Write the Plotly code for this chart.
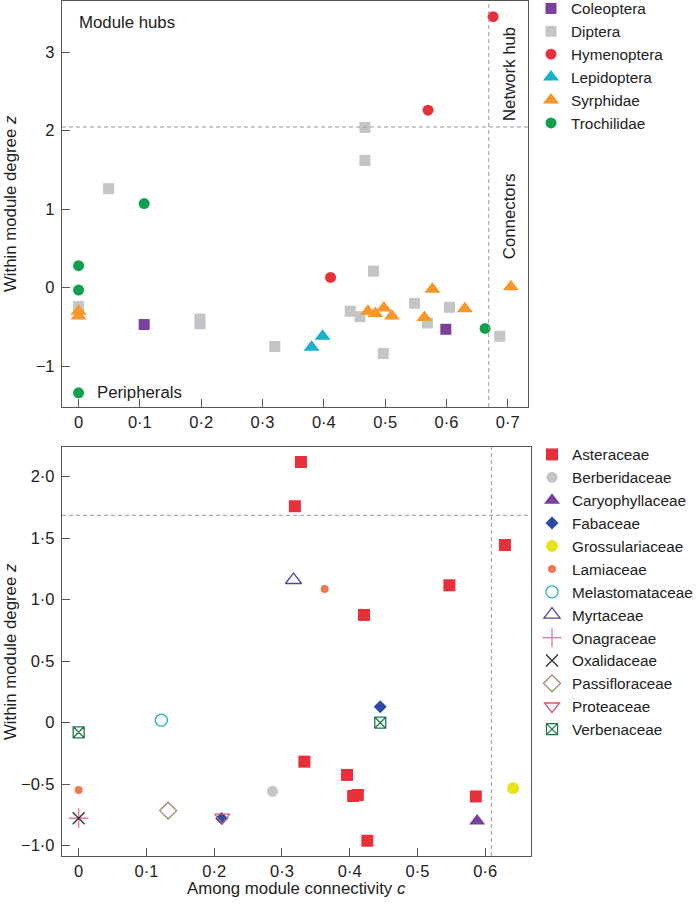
import plotly.graph_objects as go

# ---------------- data: top panel (pollinators) ----------------
coleoptera_x = [0.107, 0.599]
coleoptera_y = [-0.47, -0.53]
diptera_x = [0.0, 0.049, 0.198, 0.198, 0.32, 0.443, 0.459, 0.467, 0.467, 0.481, 0.497, 0.548, 0.569, 0.605, 0.687]
diptera_y = [-0.24, 1.26, -0.40, -0.46, -0.75, -0.30, -0.37, 2.04, 1.62, 0.21, -0.84, -0.20, -0.45, -0.25, -0.62]
hymenoptera_x = [0.676, 0.570, 0.411]
hymenoptera_y = [3.45, 2.26, 0.13]
lepidoptera_x = [0.380, 0.398]
lepidoptera_y = [-0.76, -0.62]
syrphidae_x = [0.0, 0.0, 0.472, 0.484, 0.498, 0.511, 0.564, 0.577, 0.630, 0.705]
syrphidae_y = [-0.30, -0.36, -0.30, -0.33, -0.26, -0.36, -0.38, -0.02, -0.27, 0.01]
trochilidae_x = [0.0, 0.0, 0.107, 0.0, 0.663]
trochilidae_y = [0.28, -0.03, 1.07, -1.34, -0.52]

top_c_threshold = 0.669
top_z_threshold = 2.046

# ---------------- data: bottom panel (plants) ----------------
asteraceae_x = [0.328, 0.319, 0.629, 0.547, 0.421, 0.333, 0.396, 0.405, 0.412, 0.426, 0.586]
asteraceae_y = [2.12, 1.76, 1.445, 1.117, 0.876, -0.317, -0.425, -0.596, -0.588, -0.96, -0.60]
berberidaceae_x = [0.286]
berberidaceae_y = [-0.558]
caryophyllaceae_x = [0.588]
caryophyllaceae_y = [-0.80]
fabaceae_x = [0.445, 0.211]
fabaceae_y = [0.13, -0.78]
grossulariaceae_x = [0.641]
grossulariaceae_y = [-0.533]
lamiaceae_x = [0.363, 0.0]
lamiaceae_y = [1.087, -0.547]
melastomataceae_x = [0.122]
melastomataceae_y = [0.02]
myrtaceae_x = [0.317]
myrtaceae_y = [1.16]
onagraceae_x = [0.0]
onagraceae_y = [-0.777]
oxalidaceae_x = [0.0]
oxalidaceae_y = [-0.777]
passifloraceae_x = [0.132]
passifloraceae_y = [-0.715]
proteaceae_x = [0.212]
proteaceae_y = [-0.77]
verbenaceae_x = [0.0, 0.445]
verbenaceae_y = [-0.078, 0.0]

bot_c_threshold = 0.609
bot_z_threshold = 1.686

# ---------------- tick labels ----------------
top_xtick_vals = [0, 0.1, 0.2, 0.3, 0.4, 0.5, 0.6, 0.7]
top_xtick_text = ["0", "0·1", "0·2", "0·3", "0·4", "0·5", "0·6", "0·7"]
top_ytick_vals = [-1, 0, 1, 2, 3]
top_ytick_text = ["−1", "0", "1", "2", "3"]
bot_xtick_vals = [0, 0.1, 0.2, 0.3, 0.4, 0.5, 0.6]
bot_xtick_text = ["0", "0·1", "0·2", "0·3", "0·4", "0·5", "0·6"]
bot_ytick_vals = [-1.0, -0.5, 0, 0.5, 1.0, 1.5, 2.0]
bot_ytick_text = ["−1·0", "−0·5", "0", "0·5", "1·0", "1·5", "2·0"]

FONT = "Liberation Sans, Arial, Helvetica, sans-serif"
TXT = "#222222"
AX = "#555555"

fig = go.Figure()

def add(name, xs, ys, symbol, color, size, axis, legend, line_w=0, line_color=None):
    fig.add_trace(go.Scatter(
        x=xs, y=ys, mode="markers", name=name,
        xaxis="x" if axis == 1 else "x2", yaxis="y" if axis == 1 else "y2",
        legend=legend,
        marker=dict(symbol=symbol, color=color, size=size,
                    line=dict(width=line_w, color=line_color if line_color else color)),
        showlegend=True,
    ))

# top traces
add("Coleoptera", coleoptera_x, coleoptera_y, "square", "#7b3f9e", 11, 1, "legend")
add("Diptera", diptera_x, diptera_y, "square", "#c3c5c9", 11, 1, "legend")
add("Hymenoptera", hymenoptera_x, hymenoptera_y, "circle", "#e8303a", 11, 1, "legend")
add("Lepidoptera", lepidoptera_x, lepidoptera_y, "triangle-up", "#18b2c9", 14, 1, "legend")
add("Syrphidae", syrphidae_x, syrphidae_y, "triangle-up", "#f7972b", 14, 1, "legend")
add("Trochilidae", trochilidae_x, trochilidae_y, "circle", "#0ea04c", 11, 1, "legend")

# bottom traces
add("Asteraceae", asteraceae_x, asteraceae_y, "square", "#e8303a", 12, 2, "legend2")
add("Berberidaceae", berberidaceae_x, berberidaceae_y, "circle", "#c4c5c8", 11, 2, "legend2")
add("Caryophyllaceae", caryophyllaceae_x, caryophyllaceae_y, "triangle-up", "#7b3f9e", 14, 2, "legend2")
add("Fabaceae", fabaceae_x, fabaceae_y, "diamond", "#2b4aa3", 10, 2, "legend2")
add("Grossulariaceae", grossulariaceae_x, grossulariaceae_y, "circle", "#e5e41b", 12, 2, "legend2")
add("Lamiaceae", lamiaceae_x, lamiaceae_y, "circle", "#f07a50", 8, 2, "legend2")
add("Melastomataceae", melastomataceae_x, melastomataceae_y, "circle-open", "#22b3bb", 12, 2, "legend2", 1.3)
add("Myrtaceae", myrtaceae_x, myrtaceae_y, "triangle-up-open", "#4c4a8c", 14, 2, "legend2", 1.3)
add("Onagraceae", onagraceae_x, onagraceae_y, "cross-thin-open", "#e873a8", 14, 2, "legend2", 1.3)
add("Oxalidaceae", oxalidaceae_x, oxalidaceae_y, "x-thin-open", "#333333", 12, 2, "legend2", 1.3)
add("Passifloraceae", passifloraceae_x, passifloraceae_y, "diamond-open", "#9a8c6c", 13, 2, "legend2", 1.3)
add("Proteaceae", proteaceae_x, proteaceae_y, "triangle-down-open", "#d4566f", 13, 2, "legend2", 1.3)
add("Verbenaceae", verbenaceae_x, verbenaceae_y, "square-x-open", "#1b7a4a", 11, 2, "legend2", 1.3)

W, H = 697, 906
def px_x(p):
    return p / W
def px_y(p):
    return 1 - p / H

axis_common = dict(showline=True, mirror=True, linecolor=AX, linewidth=1.3,
                   ticks="inside", ticklen=8, tickcolor=AX, tickwidth=1.3,
                   showgrid=False, zeroline=False,
                   tickfont=dict(family=FONT, size=16.5, color=TXT))

fig.update_layout(
    width=W, height=H,
    margin=dict(l=0, r=0, t=0, b=0, autoexpand=False),
    paper_bgcolor="white", plot_bgcolor="white",
    font=dict(family=FONT, size=15, color=TXT),
    xaxis=dict(domain=[px_x(62), px_x(528)], range=[-0.027, 0.733], anchor="y",
               tickmode="array", tickvals=top_xtick_vals, ticktext=top_xtick_text, **axis_common),
    yaxis=dict(domain=[px_y(407), px_y(1)], range=[-1.52, 3.65], anchor="x", ticklabelstandoff=3,
               tickmode="array", tickvals=top_ytick_vals, ticktext=top_ytick_text, **axis_common),
    xaxis2=dict(domain=[px_x(62), px_x(530.7)], range=[-0.0246, 0.667], anchor="y2",
                tickmode="array", tickvals=bot_xtick_vals, ticktext=bot_xtick_text, **axis_common),
    yaxis2=dict(domain=[px_y(856), px_y(446.7)], range=[-1.084, 2.244], anchor="x2", ticklabelstandoff=3,
                tickmode="array", tickvals=bot_ytick_vals, ticktext=bot_ytick_text, **axis_common),
    legend=dict(x=px_x(531), y=px_y(-8), xanchor="left", yanchor="top",
                font=dict(family=FONT, size=15.3, color=TXT), bgcolor="rgba(0,0,0,0)"),
    legend2=dict(x=px_x(532), y=px_y(438), xanchor="left", yanchor="top",
                 font=dict(family=FONT, size=15.3, color=TXT), bgcolor="rgba(0,0,0,0)"),
)

dash = dict(color="#9a9a9a", width=1, dash="4px,3px")
fig.add_shape(type="line", xref="x domain", yref="y", x0=0, x1=1, y0=top_z_threshold, y1=top_z_threshold, line=dash)
fig.add_shape(type="line", xref="x", yref="y domain", x0=top_c_threshold, x1=top_c_threshold, y0=0, y1=1, line=dash)
fig.add_shape(type="line", xref="x2 domain", yref="y2", x0=0, x1=1, y0=bot_z_threshold, y1=bot_z_threshold, line=dash)
fig.add_shape(type="line", xref="x2", yref="y2 domain", x0=bot_c_threshold, x1=bot_c_threshold, y0=0, y1=1, line=dash)

ann_font = dict(family=FONT, size=16.8, color=TXT)
fig.add_annotation(text="Module hubs", xref="x", yref="y", x=-0.003, y=3.37, xanchor="left", yanchor="middle",
                   showarrow=False, font=ann_font)
fig.add_annotation(text="Peripherals", xref="x", yref="y", x=0.027, y=-1.335, xanchor="left", yanchor="middle",
                   showarrow=False, font=ann_font)
fig.add_annotation(text="Network hub", xref="x", yref="y", x=0.702, y=2.72, textangle=-90,
                   xanchor="center", yanchor="middle", showarrow=False, font=ann_font)
fig.add_annotation(text="Connectors", xref="x", yref="y", x=0.702, y=0.91, textangle=-90,
                   xanchor="center", yanchor="middle", showarrow=False, font=ann_font)

fig.add_annotation(text="Within module degree <i>z</i>", xref="paper", yref="paper", x=px_x(10), y=px_y(204),
                   textangle=-90, xanchor="center", yanchor="middle", showarrow=False, font=ann_font)
fig.add_annotation(text="Within module degree <i>z</i>", xref="paper", yref="paper", x=px_x(10), y=px_y(652),
                   textangle=-90, xanchor="center", yanchor="middle", showarrow=False, font=ann_font)
fig.add_annotation(text="Among module connectivity <i>c</i>", xref="paper", yref="paper", x=px_x(296), y=px_y(888),
                   xanchor="center", yanchor="middle", showarrow=False, font=ann_font)

# remove the default 8px page margin so the figure fills the 697x906 window exactly
fig.write_html("out.html", config={"displayModeBar": False},
               post_script="document.body.style.margin='0';document.body.style.overflow='hidden';")
